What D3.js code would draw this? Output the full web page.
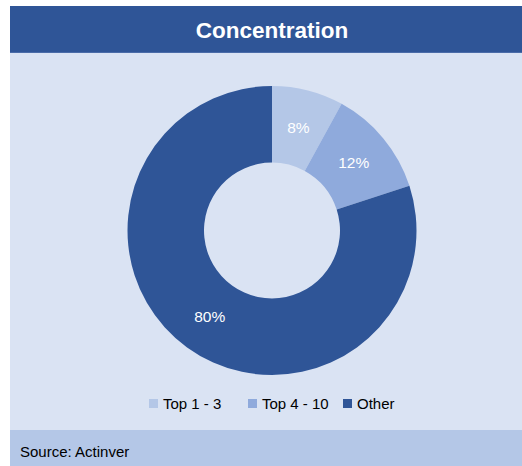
<!DOCTYPE html>
<html><head><meta charset="utf-8">
<script src="https://cdn.jsdelivr.net/npm/d3@7"></script>
<style>body{margin:0;background:#fff}svg{display:block}</style>
</head><body>
<script>
const categories = ["Top 1 - 3", "Top 4 - 10", "Other"];
const values = [8, 12, 80];
const colors = ["#B4C7E7", "#8FAADC", "#2F5597"];
const title = "Concentration";
const source = "Source: Actinver";

const W = 522, H = 466;
const svg = d3.select("body").append("svg").attr("width", W).attr("height", H);
const font = "'Liberation Sans', Arial, sans-serif";

svg.append("rect").attr("x", 10).attr("y", 6).attr("width", W - 10).attr("height", H - 6).attr("fill", "#DAE3F3");
svg.append("rect").attr("x", 10).attr("y", 6).attr("width", W - 10).attr("height", 47).attr("fill", "#2F5597");
svg.append("rect").attr("x", 10).attr("y", 52).attr("width", W - 10).attr("height", 1).attr("fill", "#4A6BA8");
svg.append("text").attr("x", 272).attr("y", 38).attr("text-anchor", "middle")
  .attr("font-family", font).attr("font-weight", "bold").attr("font-size", 22.5).attr("fill", "#fff").text(title);

svg.append("rect").attr("x", 10).attr("y", 430).attr("width", W - 10).attr("height", 36).attr("fill", "#B4C7E7");
svg.append("text").attr("x", 20).attr("y", 457).attr("font-family", font).attr("font-size", 15).attr("fill", "#000").text(source);

const cx = 272, cy = 230.5, R = 144.5, r = 68;
const pie = d3.pie().sort(null).value(d => d);
const arc = d3.arc().innerRadius(r).outerRadius(R);
const labelArc = d3.arc().innerRadius(106).outerRadius(106);
const g = svg.append("g").attr("transform", `translate(${cx},${cy})`);
const arcs = pie(values);
g.selectAll("path").data(arcs).enter().append("path")
  .attr("d", arc).attr("fill", (d, i) => colors[i]);
g.selectAll("text").data(arcs).enter().append("text")
  .attr("transform", d => `translate(${labelArc.centroid(d)})`)
  .attr("text-anchor", "middle").attr("dy", "0.35em")
  .attr("font-family", font).attr("font-size", 15.5).attr("fill", "#fff")
  .text(d => d.data + "%");

// legend
const legX = [149, 248, 343];
const leg = svg.append("g");
categories.forEach((c, i) => {
  leg.append("rect").attr("x", legX[i]).attr("y", 399).attr("width", 9).attr("height", 9).attr("fill", colors[i]);
  leg.append("text").attr("x", legX[i] + 14).attr("y", 409).attr("font-family", font).attr("font-size", 15).attr("fill", "#000").text(c);
});
</script>
</body></html>
